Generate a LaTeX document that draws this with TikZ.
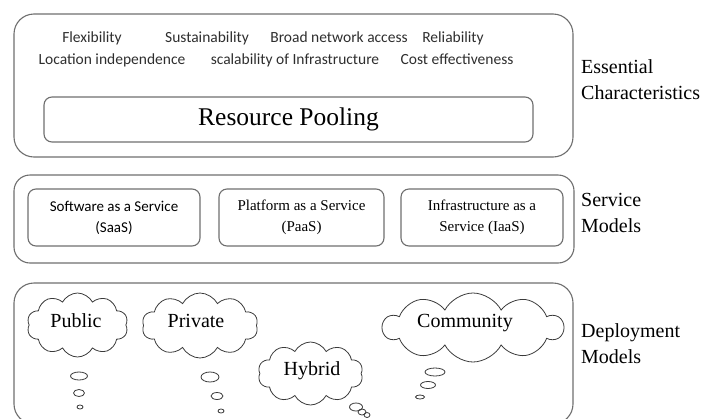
\documentclass[tikz,border=0pt]{standalone}
\usepackage{fontspec}
\setmainfont{Liberation Serif}
\newfontfamily\calib{Carlito}
\usetikzlibrary{shapes.symbols}
\definecolor{boxgray}{HTML}{6E6E6E}
\definecolor{cloudline}{HTML}{3A3A3A}
\definecolor{traitgray}{HTML}{2E2E2E}

\begin{document}
\begin{tikzpicture}[x=1pt,y=-1pt,
  panel/.style={draw=boxgray, line width=1.1pt, rounded corners=20pt, inner sep=0pt},
  innerbox/.style={draw=boxgray, line width=1.1pt, rounded corners=8pt, inner sep=0pt},
  trait/.style={font=\calib\fontsize{15.5}{18}\selectfont, text=traitgray, inner sep=0pt, anchor=base},
  svc/.style={font=\fontsize{15}{21}\selectfont, align=center, inner sep=0pt},
  layer/.style={font=\fontsize{20}{26}\selectfont, align=left, anchor=west, inner sep=0pt},
  puff/.style={cloud, cloud puffs=10, cloud puff arc=125, cloud ignores aspect,
               draw=cloudline, line width=0.8pt, inner sep=0pt},
  cloudtext/.style={font=\fontsize{20}{24}\selectfont, inner sep=0pt, anchor=base},
  bubble/.style={draw=cloudline, line width=0.8pt}
]
\useasboundingbox (0,0) rectangle (703,418);
\clip (0,0) rectangle (703,418);

% Essential characteristics
\node[panel, minimum width=559, minimum height=143] (ess) at (293.5,85.5) {};
\node[trait] (flex) at (92,42) {Flexibility};
\node[trait] (sust) at (207,42) {Sustainability};
\node[trait] (broad) at (339,42) {Broad network access};
\node[trait] (rel) at (453,42) {Reliability};
\node[trait] (loc) at (112,64) {Location independence};
\node[trait] (scal) at (295,64) {scalability of Infrastructure};
\node[trait] (cost) at (457,64) {Cost effectiveness};
\node[innerbox, minimum width=489, minimum height=45,
      font=\fontsize{25.5}{30}\selectfont] (pool) at (288.5,119.5) {Resource Pooling};
\node[layer] (esslbl) at (581,80) {Essential\\Characteristics};

% Service models
\node[panel, rounded corners=16pt, minimum width=560, minimum height=88] (svcpanel) at (294,219) {};
\node[innerbox, minimum width=172, minimum height=57] (saas) at (114,217.5) {};
\node[svc, font=\calib\fontsize{15}{21}\selectfont] (saastxt) at (saas) {Software as a Service\\(SaaS)};
\node[innerbox, minimum width=165, minimum height=57] (paas) at (301.5,217.5) {};
\node[svc] (paastxt) at (paas) {Platform as a Service\\(PaaS)};
\node[innerbox, minimum width=162, minimum height=57] (iaas) at (482,217.5) {};
\node[svc] (iaastxt) at (iaas) {Infrastructure as a\\Service (IaaS)};
\node[layer] (svclbl) at (581,213) {Service\\Models};

% Deployment models
\node[panel, minimum width=559, minimum height=141] (dep) at (293.5,353.5) {};
\node[layer] (deplbl) at (581,344) {Deployment\\Models};

\node[puff, minimum width=101, minimum height=64] (public) at (77.5,325) {};
\node[cloudtext] (publictxt) at (76,327) {Public};
\draw[bubble] (79,376) ellipse (8.5 and 4);
\draw[bubble] (79,393) ellipse (5.5 and 3.5);
\draw[bubble] (80,407) ellipse (3 and 2);

\node[puff, minimum width=116, minimum height=65] (private) at (200,325.5) {};
\node[cloudtext] (privatetxt) at (196,327) {Private};
\draw[bubble] (210,377) ellipse (9 and 5);
\draw[bubble] (217,396) ellipse (6 and 3.5);
\draw[bubble] (221,411) ellipse (3 and 2);

\node[puff, minimum width=105, minimum height=63] (hybrid) at (310.5,373.5) {};
\node[cloudtext] (hybridtxt) at (312,375) {Hybrid};
\draw[bubble] (356,407) ellipse (6.5 and 4);
\draw[bubble] (362,412) ellipse (4 and 3);
\draw[bubble] (367,415) ellipse (3 and 2.5);

\node[puff, minimum width=180, minimum height=69] (community) at (473,327.5) {};
\node[cloudtext] (communitytxt) at (465,327) {Community};
\draw[bubble] (435,372) ellipse (10 and 4);
\draw[bubble] (428,385) ellipse (7.5 and 3.5);
\draw[bubble] (420,397) ellipse (4.5 and 2);
\end{tikzpicture}
\end{document}
